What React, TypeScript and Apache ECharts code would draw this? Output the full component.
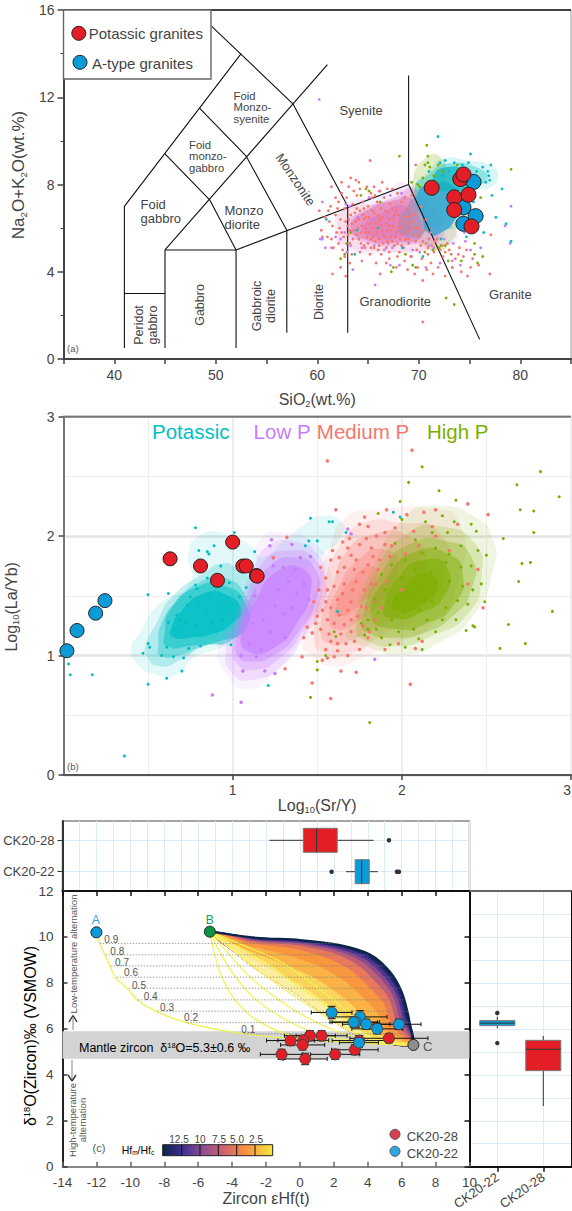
import React, { useEffect, useRef } from "react";
import * as echarts from "echarts";

const FONT = "Liberation Sans";
const MED = "#F8766D", HIGH = "#7CAE00", POT = "#00BFC4", LOW = "#C77CFF";
const RED = "#E41E26", BLUE = "#0A9BD8";

// ---------- panel (a) ----------
const tasBoundaries = [
  [[41, 0.5], [41, 7], [52.5, 14]],
  [[41, 3], [45, 3]],
  [[45, 0.5], [45, 5], [52, 5], [52, 0.5]],
  [[52, 5], [69, 8], [76, 0.9]],
  [[57, 1.2], [57, 5.9]],
  [[63, 1.2], [63, 7]],
  [[69, 13], [69, 8]],
  [[49.6, 15.25], [57.6, 11.7], [63, 7]],
  [[45, 9.4], [49.4, 7.3], [52, 5]],
  [[48.4, 11.5], [53, 9.3], [57, 5.9]],
  [[45, 5], [61, 13.5]],
];
const tasRed = [[71.27, 7.85], [73.5, 7.41], [73.5, 6.83], [74.1, 8.25], [74.4, 8.46], [74.9, 7.53], [75.2, 6.08]];
const tasBlue = [[75.4, 8.12], [74.4, 6.95], [74.4, 6.2], [75.6, 6.55]];
const tasMedium = [[65.2,9.1],[69.7,8.9],[63.3,8.3],[63.8,8.2],[64.1,8.1],[61.4,7.9],[62.4,8.1],[66.4,8.1],[65.4,7.4],[60.2,6.8],[61.1,6.8],[60.4,5.9],[60.5,5.6],[61.5,3.9],[62.8,3.8],[62.3,4.2],[62.7,4.7],[70.4,3.6],[70.4,1.7],[72.6,3.8],[74.8,3.8],[77,3.9],[75.9,4.3],[77.1,5.7],[67.9,4.7],[66.8,4.4],[66.3,4.8],[64.7,5.1],[68.6,4.5],[70.9,4.8],
[61.2,6.3],[61.5,6.1],[61.8,6.6],[61.9,5.8],[62.1,7.2],[62.3,6.4],[62.4,7.6],[62.6,5.6],[62.7,6.9],[62.9,7.4],[63,6.1],[63.2,5.3],[63.3,6.6],[63.5,7.1],[63.6,5.9],[63.8,6.3],[63.9,7.5],[64.1,5.5],[64.2,6.8],[64.4,6.1],[64.5,7.2],[64.7,5.8],[64.8,6.5],[65,5.3],[65,7],[65.2,6.2],[65.3,7.6],[65.5,5.6],[65.6,6.7],[65.8,6],[65.9,7.2],[66.1,5.2],[66.2,6.4],[66.3,6.9],[66.5,5.7],[66.6,7.4],[66.8,6.2],[66.9,5.4],[67,6.7],[67.2,7.1],[67.3,5.9],[67.5,6.4],[67.6,5.2],[67.8,6.8],[67.9,7.6],[68,6],[68.2,5.5],[68.3,7.2],[68.5,6.5],[68.6,5.8],[68.8,6.9],[69,5.3],[69.1,6.2],[69.3,7.5],[69.4,5.7],[69.6,6.6],[69.8,5],[70,6],[70.2,7],[70.4,5.4],[70.7,6.4],[70.9,5.1],[71.2,5.8],[71.5,4.9],[71.8,5.5],[72.1,5],[72.4,4.7],[72.8,5.3],[73.2,4.8],[73.6,4.6],[74,5.1],[74.4,4.7],[62.1,5.3],[61.6,5.1],[61,5.6],[60.8,6.5],[62.5,5],[63.4,4.8],[64.2,4.9],[65.2,4.8],[66,5],[67.1,4.9],[68.1,4.9],[69.2,4.7],[70.3,4.6],[71.2,4.4],[71.9,4.2],[69.9,4.2],[68.9,4.1],
[63.1,6.4],[63.7,6.7],[64,6],[64.6,6.4],[64.9,5.6],[65.4,6],[65.7,5.4],[66,6.6],[66.4,5.9],[66.7,5.6],[67.1,6.1],[67.4,6.9],[67.7,5.6],[68.1,6.3],[68.4,5.7],[68.7,6.3],[69,5.9],[69.2,6.6],[69.7,5.4],[70.1,5.6],[64.3,5.3],[63,5.7],[62.2,6],[61.4,5.5],[61.3,7],[64.6,6.9],[66.1,7.7],[67.4,7.8],[66.8,5.1],[65.3,5.1],
[62.4,5.8],[62.8,6.3],[63.2,5.9],[63.4,6.2],[63.5,5.5],[63.9,5.7],[64.1,6.4],[64.3,5.8],[64.5,6.6],[64.6,5.2],[64.8,6],[65.1,5.8],[65.1,6.5],[65.3,5.5],[65.4,6.8],[65.6,5.1],[65.7,6.2],[65.9,5.8],[66,6.3],[66.1,5.5],[66.3,6.1],[66.4,6.5],[66.5,5.3],[66.7,6.8],[66.9,5.9],[67,5.3],[67.1,6.4],[67.2,5.6],[67.4,5.4],[67.5,6.1],[67.6,6.6],[67.8,5.8],[67.9,5.3],[68,6.6],[68.2,6],[68.3,5.2],[68.5,6.1],[68.7,5.5],[68.9,6.5],[69,5.5],[69.3,6],[69.5,6.3],[69.7,6],[69.9,5.7],[70.2,5.2],[70.5,5.9],[70.7,5.3],[71,5.5],[71.3,5.2],[71.6,5.4],[72.3,5.2],[72.6,4.9],[73,5],[73.9,4.8],[74.7,5],[75.3,4.6],[63.6,7.7],[64.9,7.9],[65.6,7.9],[63.1,7.9],[61.8,7.4],[62,6.9],[66.9,7.8],[68.6,7.4],[67.1,4.6],[65.8,4.4],[64.4,4.5],[63.2,4.4],[66.2,3.9],[67.8,4.2],[69.6,3.9],[70.8,4.1],[71.4,3.9],[73.3,4.2],[75.1,4.2],[74.2,4],[63.9,6.9],[65.7,7.5],[64.2,7.8]];
const tasLow = [[60.2,11.9],[60.5,7.2],[60.5,5.5],[60.3,5.5],[60.8,5.1],[61.4,5.1],[65.7,3.4],[63.5,4.1],[79.1,7],[78.5,6.1],[79,5.3],[67.2,4.3],[68.1,4.3],[69.3,4.7],[73.3,4.5],[61.8,5.6],[62.3,5.5],[62.7,5.8],[63.3,5.2],[62.9,4.9],[64.4,5.1],[65.6,5.2],[66.6,5],[67.4,5.1],[68.5,5.1],[69.4,5],[70.1,4.9],[71,5.2],[71.5,5.1],[72.5,5.5],[73.4,5.3],[74.6,5.4],[75.1,5],[76.1,5.1],[75.5,5.9],[65.1,7.4],[66.2,7.7],[67.2,7.5],[68.3,7.6],[63.2,7],[62.8,7.1],[70.7,4.2],[72.1,4.4],[74.1,4.3],[74.5,5.8],[67.6,6.5],[66.3,6.1],[65.4,6.4],[64,6.5],[68.9,5.6]];
const tasHigh = [[70.8,9.8],[68.1,9.3],[70.9,9.3],[79.1,8.7],[69.3,8.1],[72.7,2.8],[73.5,2.5],[62.3,4.6],[62.7,4.8],[67.3,4],[69.7,4.2],[76.3,4.7],[75.8,4.4],[73.3,4.2],[72.2,5.2],[70.9,9],[70.6,8.9],[71.1,8.8],[71.5,8.4],[71.9,8.9],[70.4,8.3],[71.7,8.1],[72.4,8.6],[72,7.8],[69.9,8],[70.1,7.9],[72.6,5.2],[72,5.1],[71.4,5],[70.6,4.9],[68.7,4.8],[67.5,4.2],[66.2,7.2],[65.1,7.7],[64.3,7.5],[64.8,7.8],[75.5,4.8],[76.1,7.4],[75.3,7.6],[73.8,8.9],[75.5,5.3],[74.2,4.5],[72.9,4.5],[69.4,4.3],[63.3,5.8],[62.9,5.3]];
const tasPot = [[71.9,10.2],[75.1,9.4],[77.1,8.9],[78.2,7.8],[77.6,6.5],[78.6,6.2],[79.1,5.4],[76.4,5.8],[77.2,7.5],[76.8,8.6],[76.3,8.8],[70.4,4.7],[63.7,4.8],[68.4,5.1],[76.9,8.4],[76.6,8.1],[77,8.2],[75.7,8.6],[74.9,9],[74.3,8.9],[73.5,9],[72.6,9.1],[72.1,9],[71,8.6],[73,8.6],[72.3,8.4],[75.4,7.2],[74.7,5.6],[60.9,6.4],[63.9,5.9],[66,6],[72.2,5.5]];
const tasBlobs = [
  { fill: HIGH, opacity: 0.22, pts: [[69.3,7.9],[70.8,9.27],[72.4,9.12],[72.75,8.05],[73.7,6.37],[73.1,5.3],[71.4,5.0],[69.5,5.91]] },
  { fill: LOW, opacity: 0.13, pts: [[61.8,5.7],[62.6,7.0],[66.5,7.59],[68.8,8.05],[72.1,6.52],[73.9,5.6],[71.4,5.05],[66.5,4.85],[62.8,5.0]] },
  { fill: LOW, opacity: 0.3, pts: [[62.9,6.06],[65.0,6.95],[67.8,7.44],[69.5,7.84],[71.3,6.52],[72.4,5.6],[69.1,5.25],[64.6,5.35]] },
  { fill: MED, opacity: 0.14, pts: [[62.0,5.9],[62.7,6.9],[66.5,7.2],[69,7.8],[70.8,7],[72.0,5.2],[70,4.95],[66.1,4.95],[62.7,5.2]] },
  { fill: "#E56FA8", opacity: 0.55, pts: [[63.3,6.06],[65.2,6.9],[67.8,7.3],[69.1,7.4],[70,6.6],[70.2,5.6],[68,5.35],[64.8,5.45]] },
  { fill: "#DE72B4", opacity: 0.5, pts: [[64.5,6.06],[66.8,6.8],[68.6,7.0],[69.3,6.2],[68.4,5.6],[65.2,5.65]] },
  { fill: "#8F8FB8", opacity: 0.5, pts: [[68.0,6.0],[69.0,7.1],[69.9,7.4],[70.6,6.6],[70.4,5.7],[69,5.6]] },
  { fill: POT, opacity: 0.14, pts: [[72.4,9.19],[74.7,9.12],[77.3,8.81],[77.8,8.35],[77.2,7.9],[75.4,7.59],[74.4,6.37],[72.75,5.91],[71.1,6.2],[69.6,7.74],[71.1,8.66]] },
  { fill: POT, opacity: 0.35, pts: [[69.6,7.74],[71.1,8.5],[72.75,8.96],[76,8.73],[76.7,8.2],[74.7,7.74],[73.7,6.83],[72.1,6.06],[70.9,6.2]] },
  { fill: "#3AA4D4", opacity: 0.85, pts: [[69.9,7.6],[71.3,8.0],[73.2,8.0],[74.3,7.2],[73.6,6.4],[72.4,5.85],[71,5.75],[70.3,6.6]] },
  { fill: "#12B4BE", opacity: 0.75, pts: [[71.4,8.3],[72.8,8.8],[74.7,8.5],[74.9,7.9],[73.4,7.7],[71.9,7.8]] },
];

// ---------- panel (b) ----------
const geoRed = [[0.63,1.81],[0.81,1.75],[0.91,1.63],[1.0,1.95],[1.06,1.75],[1.08,1.75],[1.14,1.67],[1.145,1.665]];
const geoBlue = [[0.02,1.04],[0.08,1.21],[0.19,1.355],[0.245,1.46]];
const geoPotBlobs = [
  [[0.40,1.05],[0.455,1.20],[0.55,1.41],[0.746,1.61],[0.74,1.86],[0.81,2.01],[0.96,2.02],[1.09,1.94],[1.18,1.83],[1.31,1.97],[1.415,2.09],[1.53,2.17],[1.64,2.12],[1.65,2.01],[1.52,1.83],[1.35,1.61],[1.13,1.33],[1.03,1.13],[0.90,1.05],[0.77,0.98],[0.68,0.85],[0.55,0.84],[0.43,0.94]],
  [[0.49,1.10],[0.55,1.27],[0.64,1.49],[0.83,1.69],[0.94,1.77],[1.03,1.72],[1.13,1.58],[1.11,1.38],[1.0,1.13],[0.83,1.08],[0.70,0.97],[0.57,0.91],[0.49,1.0]],
  [[0.56,1.08],[0.58,1.27],[0.68,1.47],[0.83,1.63],[0.96,1.65],[1.08,1.49],[1.1,1.3],[0.98,1.12],[0.83,1.08],[0.68,1.0],[0.57,1.0]],
  [[0.6,1.2],[0.63,1.38],[0.78,1.57],[0.96,1.58],[1.08,1.42],[1.07,1.22],[0.92,1.12],[0.75,1.08],[0.61,1.08]],
  [[0.64,1.24],[0.70,1.38],[0.83,1.52],[0.96,1.51],[1.05,1.38],[1.0,1.27],[0.9,1.19],[0.75,1.15],[0.64,1.16]],
];
const geoLowBlobs = [
  [[0.92,1.10],[1.03,1.30],[1.13,1.66],[1.16,1.97],[1.31,2.03],[1.48,1.94],[1.57,1.75],[1.58,1.49],[1.5,1.30],[1.39,1.10],[1.24,0.85],[1.09,0.72],[0.96,0.85]],
  [[0.96,1.05],[1.03,1.38],[1.12,1.72],[1.22,1.93],[1.38,1.95],[1.5,1.85],[1.55,1.66],[1.53,1.42],[1.43,1.18],[1.3,0.92],[1.13,0.8],[1.0,0.85]],
  [[1.0,1.08],[1.07,1.44],[1.18,1.78],[1.33,1.88],[1.49,1.8],[1.53,1.55],[1.42,1.22],[1.28,0.98],[1.12,0.88],[1.02,0.94]],
  [[1.02,1.12],[1.1,1.47],[1.22,1.75],[1.38,1.82],[1.49,1.72],[1.5,1.5],[1.39,1.2],[1.24,1.0],[1.1,0.95],[1.03,1.0]],
  [[1.05,1.18],[1.14,1.47],[1.26,1.7],[1.42,1.72],[1.46,1.53],[1.38,1.27],[1.25,1.07],[1.1,1.03]],
];
const geoMedBlobs = [
  [[1.41,1.10],[1.5,1.61],[1.57,1.89],[1.67,2.16],[1.87,2.22],[2.17,2.23],[2.34,2.11],[2.34,1.66],[2.17,1.24],[1.95,1.10],[1.78,0.99],[1.59,0.91],[1.46,1.01]],
  [[1.48,1.16],[1.54,1.61],[1.63,1.91],[1.78,2.11],[2.0,2.11],[2.21,2.05],[2.26,1.72],[2.08,1.33],[1.87,1.16],[1.7,1.02],[1.54,1.02]],
  [[1.52,1.24],[1.59,1.58],[1.67,1.86],[1.82,2.01],[2.04,2.0],[2.15,1.75],[2.04,1.41],[1.85,1.24],[1.70,1.13],[1.57,1.10]],
  [[1.57,1.33],[1.63,1.58],[1.74,1.8],[1.89,1.89],[1.98,1.75],[1.87,1.44],[1.72,1.27],[1.61,1.22]],
  [[1.61,1.41],[1.7,1.63],[1.82,1.75],[1.85,1.63],[1.74,1.41],[1.63,1.33]],
];
const geoHighBlobs = [
  [[1.67,1.16],[1.7,1.27],[1.8,1.66],[2.02,2.16],[2.21,2.25],[2.43,2.16],[2.54,1.97],[2.54,1.72],[2.43,1.35],[2.21,1.10],[2.0,1.01],[1.78,1.08]],
  [[1.73,1.24],[1.85,1.72],[2.04,2.03],[2.23,2.08],[2.43,1.94],[2.47,1.66],[2.39,1.35],[2.17,1.16],[1.98,1.08],[1.78,1.13]],
  [[1.76,1.27],[1.89,1.72],[2.06,1.94],[2.26,1.96],[2.41,1.83],[2.41,1.55],[2.3,1.33],[2.13,1.19],[1.95,1.15],[1.8,1.19]],
  [[1.82,1.33],[1.93,1.69],[2.08,1.87],[2.26,1.86],[2.36,1.69],[2.3,1.41],[2.15,1.27],[1.98,1.22]],
  [[1.89,1.38],[2.0,1.69],[2.13,1.8],[2.26,1.75],[2.26,1.52],[2.1,1.35],[1.95,1.31]],
  [[1.94,1.41],[2.04,1.61],[2.15,1.69],[2.21,1.58],[2.1,1.41],[2.0,1.37]],
];
const geoPot = [[0.78,2.07],[1.01,2.03],[0.89,1.92],[0.80,1.88],[0.85,1.87],[0.86,1.85],[1.13,1.87],[0.93,1.75],[1.46,2.15],[1.57,2.12],[1.59,2.12],[1.45,1.96],[1.5,1.96],[1.43,1.92],[1.67,2.03],[1.95,2.2],[1.99,2.16],[0.03,0.93],[0.04,0.84],[0.17,0.84],[0.36,0.16],[0.5,0.76],[0.61,0.81],[0.7,0.87],[0.47,1.02],[0.5,1.1],[0.51,1.07],[0.5,1.51],[0.62,1.52],[1.21,0.75],[0.61,1.07],[0.65,0.99],[0.71,0.98],[0.74,1.06],[0.81,1.08],[0.58,1.0],[0.75,1.49],[0.78,1.59],[0.79,1.56],[0.85,1.65],[0.98,1.61],[1.04,1.49],[1.08,1.57],[0.99,1.09],[0.67,1.34],[0.7,1.2],[0.73,1.42],[0.78,1.25],[0.84,1.35],[0.88,1.28],[0.92,1.4],[0.62,1.28],[0.66,1.17],[0.8,1.44],[0.86,1.47],[0.94,1.3],[0.72,1.28],[0.65,1.22],[0.9,1.2],[0.97,1.4],[0.69,1.3],[1.62,1.37]];
const geoLow = [[0.88,0.67],[1.05,0.61],[1.23,1.97],[1.22,1.92],[1.35,1.93],[1.24,1.82],[1.4,1.82],[1.46,1.83],[1.25,0.85],[1.19,0.87],[1.06,0.87],[1.05,1.0],[1.68,2.06],[1.7,2.02],[1.84,0.97],[1.24,1.75],[1.3,1.74],[1.37,1.72],[1.13,1.5],[1.1,1.1],[1.14,0.99],[1.31,1.15],[1.27,1.55],[1.18,1.3],[1.35,1.4],[1.42,1.6],[1.22,1.2],[1.3,1.35],[1.12,1.27],[1.38,1.52],[1.25,1.42],[1.45,1.47],[1.17,1.05],[1.33,1.62]];
const geoMed = [[2.06,2.72],[1.56,2.63],[2.39,2.27],[2.51,2.18],[1.61,2.22],[1.91,2.22],[2.05,0.76],[1.58,0.64],[1.47,0.77],[1.73,0.86],[1.64,0.87],[1.31,0.89],[1.41,0.99],[1.32,1.99],[1.24,1.82],[2.48,1.4],[1.75,2.1],[1.78,2.16],[1.8,2.08],[1.9,2.03],[1.96,2.07],[2.03,2.18],[2.13,2.2],[2.2,2.22],[2.07,2.04],[1.65,1.95],[1.68,1.9],[1.7,1.84],[1.75,1.93],[1.82,1.9],[1.85,2.0],[1.58,1.8],[1.52,1.74],[1.55,1.65],[1.62,1.7],[1.66,1.74],[1.72,1.72],[1.8,1.76],[1.87,1.8],[1.93,1.83],[1.6,1.58],[1.66,1.6],[1.73,1.62],[1.78,1.55],[1.85,1.6],[1.91,1.62],[1.55,1.45],[1.62,1.47],[1.7,1.45],[1.76,1.41],[1.84,1.46],[1.5,1.33],[1.56,1.3],[1.63,1.34],[1.7,1.3],[1.77,1.25],[1.84,1.3],[1.47,1.19],[1.52,1.22],[1.58,1.12],[1.64,1.18],[1.72,1.12],[1.8,1.15],[1.55,1.05],[1.62,1.04],[1.68,1.0],[1.6,0.99],[1.53,0.96],[1.75,1.05],[2.12,1.12],[2.08,1.06],[1.9,1.05],[1.98,1.1],[1.94,1.92],[2.02,1.85],[2.1,1.92],[2.2,2.0],[2.28,1.88],[2.33,2.1],[2.18,2.08],[1.88,1.4],[2.0,1.55],[1.48,1.45],[1.44,1.24],[1.42,1.15],[2.45,1.72],[2.39,1.6],
[1.59,1.88],[1.63,1.82],[1.69,1.98],[1.73,1.8],[1.77,1.7],[1.79,1.98],[1.83,1.83],[1.86,1.72],[1.9,1.93],[1.56,1.55],[1.58,1.4],[1.6,1.27],[1.65,1.52],[1.68,1.38],[1.71,1.55],[1.74,1.33],[1.79,1.4],[1.82,1.6],[1.81,1.2],[1.66,1.26],[1.57,1.18],[1.53,1.38],[1.51,1.55],[1.49,1.27],[1.67,1.1],[1.7,1.2],[1.62,1.1],[1.56,0.98]];
const geoHigh = [[2.12,2.58],[2.04,2.45],[2.22,2.38],[1.99,2.29],[2.32,2.3],[2.82,2.54],[2.68,2.43],[2.93,2.33],[2.7,2.22],[2.78,2.21],[2.78,2.03],[2.6,1.98],[2.71,1.77],[2.76,1.78],[2.69,1.62],[2.89,1.37],[2.63,1.26],[2.73,1.1],[2.58,1.06],[1.81,0.44],[1.46,0.65],[1.5,0.88],[1.86,2.19],[2.5,1.84],[2.43,1.24],[2.0,2.14],[2.14,2.12],[2.24,2.17],[2.31,2.12],[2.41,2.1],[2.44,2.04],[2.27,2.03],[2.18,2.03],[2.08,1.97],[1.96,1.94],[2.35,1.92],[2.28,1.85],[2.2,1.9],[2.12,1.86],[2.02,1.8],[1.94,1.76],[1.88,1.68],[2.45,1.88],[2.41,1.75],[2.35,1.74],[2.26,1.78],[2.17,1.7],[2.08,1.72],[2.0,1.65],[1.9,1.55],[1.84,1.47],[2.47,1.6],[2.42,1.55],[2.36,1.58],[2.28,1.62],[2.2,1.55],[2.12,1.58],[2.05,1.52],[1.96,1.48],[1.86,1.36],[1.8,1.3],[2.39,1.43],[2.33,1.46],[2.26,1.4],[2.18,1.45],[2.1,1.38],[2.02,1.36],[1.94,1.3],[1.85,1.22],[1.78,1.17],[2.32,1.3],[2.24,1.3],[2.15,1.3],[2.07,1.22],[1.98,1.2],[1.88,1.15],[2.42,1.25],[2.38,1.21],[2.2,1.2],[2.1,1.14],[2.02,1.07],[1.93,1.09],[2.12,1.05],[1.8,1.22],[1.76,1.27],[2.49,1.45],[1.6,1.2],[1.61,1.16],[1.5,0.95],[1.55,1.0]];

// ---------- panel (c) ----------
const boxXTop = { // min, q1, median, q3, max
  "CK20-28": [-1.8, 0.2, 0.98, 2.2, 4.35],
  "CK20-22": [2.71, 3.26, 3.64, 4.09, 4.6],
};
const outliersTop = [[5.25, 2], [1.87, 1], [5.72, 1], [5.84, 1]];
const boxYRight = {
  "CK20-22": [6.02, 6.14, 6.25, 6.36, 6.53],
  "CK20-28": [2.64, 4.18, 5.11, 5.5, 5.69],
};
const outliersRight = [[1, 6.69], [1, 5.38]];
const endA = [-12.0, 10.2], endB = [-5.31, 10.23], endC = [6.69, 5.3];
const mantleBand = [[-14, 5.9], [10, 5.9], [10, 4.7], [-14, 4.7]];
const curveAC = [[-12.0,10.2],[-11.8,9.72],[-11.5,9.22],[-11.2,8.74],[-10.9,8.25],[-10.2,7.77],[-9.6,7.26],[-8.5,6.77],[-6.7,6.27],[-3.3,5.78],[1.0,5.5],[6.69,5.3]];
const fanEnvelope = [[-5.31,10.23],[-2.56,9.97],[0,9.87],[2.36,9.65],[4.13,9.24],[5.31,8.49],[6.0,7.62],[6.39,6.6],[6.69,5.3]];
const fanShells = [
  [[-5.31,10.23],[-2.56,9.94],[0,9.84],[2.32,9.61],[4.05,9.2],[5.2,8.45],[5.93,7.6],[6.3,6.58],[6.69,5.3]],
  [[-5.31,10.23],[-2.6,9.91],[0,9.8],[2.25,9.56],[3.95,9.13],[5.08,8.4],[5.82,7.56],[6.2,6.52],[6.69,5.3]],
  [[-5.31,10.23],[-2.65,9.88],[-0.05,9.76],[2.15,9.5],[3.8,9.05],[4.93,8.3],[5.68,7.5],[6.08,6.45],[6.69,5.3]],
  [[-5.31,10.23],[-2.7,9.85],[-0.1,9.71],[2.02,9.42],[3.62,8.95],[4.74,8.2],[5.5,7.42],[5.92,6.37],[6.69,5.3]],
  [[-5.31,10.23],[-2.78,9.8],[-0.2,9.64],[1.85,9.32],[3.38,8.8],[4.48,8.03],[5.27,7.3],[5.72,6.25],[6.69,5.3]],
  [[-5.31,10.23],[-2.9,9.74],[-0.4,9.5],[1.55,9.1],[3.0,8.55],[4.1,7.8],[4.95,7.1],[5.45,6.1],[6.69,5.3]],
  [[-5.31,10.23],[-3.1,9.64],[-0.85,9.22],[1.05,8.75],[2.5,8.15],[3.6,7.45],[4.5,6.75],[5.15,5.92],[6.69,5.3]],
  [[-5.31,10.23],[-3.35,9.52],[-1.3,8.9],[0.5,8.35],[1.95,7.7],[3.05,7.05],[4.0,6.4],[4.85,5.73],[6.69,5.3]],
  [[-5.31,10.23],[-3.65,9.38],[-1.8,8.6],[-0.1,7.95],[1.3,7.25],[2.45,6.6],[3.4,5.98],[4.6,5.55],[6.69,5.3]],
];
const fanShellColors = ["#0B2447", "#232670", "#4E3590", "#8A4A8E", "#BE5D78", "#E8795A", "#F9973F", "#FBB347", "#FBD45E", "#FDE98C"];
const fanLower = [[-5.31,10.23],[-3.93,9.36],[-2.26,8.42],[-0.59,7.69],[0.79,6.96],[1.97,6.31],[3.15,5.8],[4.52,5.44],[6.69,5.3]];
const yellowCurves = [
  [[-5.31,10.23],[-5.02,9.21],[-4.52,8.13],[-3.74,7.18],[-2.56,6.38],[-0.59,5.73],[1.97,5.44],[6.69,5.3]],
  [[-5.31,10.23],[-4.62,9.21],[-3.74,8.2],[-2.56,7.25],[-0.98,6.46],[0.98,5.8],[3.54,5.44],[6.69,5.3]],
  [[-5.31,10.23],[-4.13,9.21],[-3.05,8.34],[-1.77,7.54],[0,6.67],[1.97,5.95],[4.33,5.44],[6.69,5.3]],
  [[-5.31,10.23],[-3.64,9.29],[-2.36,8.49],[-0.98,7.76],[0.79,6.89],[2.56,6.09],[4.72,5.44],[6.69,5.3]],
  [[-5.31,10.23],[-3.15,9.36],[-1.67,8.71],[-0.2,7.9],[1.47,7.04],[3.05,6.17],[4.92,5.44],[6.69,5.3]],
  [[-5.31,10.23],[-2.9,9.5],[-1.2,8.95],[0.3,8.2],[1.9,7.3],[3.3,6.4],[5.0,5.55],[6.69,5.3]],
];
const fractionLines = [
  { label: "0.9", y: 9.72, from: -11.8, to: 2.2 },
  { label: "0.8", y: 9.22, from: -11.45, to: 4.1 },
  { label: "0.7", y: 8.74, from: -11.15, to: 5.05 },
  { label: "0.6", y: 8.25, from: -10.8, to: 5.5 },
  { label: "0.5", y: 7.77, from: -10.1, to: 5.9 },
  { label: "0.4", y: 7.26, from: -9.55, to: 6.15 },
  { label: "0.3", y: 6.77, from: -8.4, to: 6.39 },
  { label: "0.2", y: 6.27, from: -6.65, to: 6.55 },
  { label: "0.1", y: 5.78, from: -3.3, to: 6.65 },
];
// x, y, half-width in x, half-height in y
const zirconRed = [[5.25,5.59,2.3,0.2],[3.5,5.49,1.6,0.22],[3.24,5.09,1.37,0.22],[1.28,5.7,1.5,0.22],[0.59,5.7,1.5,0.22],[0.2,5.5,1.5,0.22],[0.16,5.3,1.3,0.22],[-0.55,5.49,1.42,0.22],[2.08,4.89,1.45,0.22],[0.31,4.69,1.3,0.25],[-1.08,4.89,1.25,0.22]];
const zirconBlue = [[1.87,6.71,1.2,0.27],[3.54,6.52,1.6,0.27],[3.3,6.29,1.4,0.22],[3.17,6.29,1.4,0.22],[3.91,6.2,1.4,0.22],[4.56,6.0,1.5,0.22],[5.84,6.2,1.3,0.22],[3.48,5.4,1.15,0.22]];
const colorbarLabels = ["12.5", "10", "7.5", "5.0", "2.5"];

// ---------- helpers ----------
type P = number[];
const gridAxes = (xi: number, yi: number) => ({ xAxisIndex: xi, yAxisIndex: yi });

function blobs(list: any[], xi: number, yi: number, z = 2) {
  return {
    type: "custom", ...gridAxes(xi, yi), silent: true, z, clip: true,
    data: list.map((b, i) => [b.pts[0][0], b.pts[0][1], i]),
    encode: { x: 0, y: 1 },
    renderItem: (params: any, api: any) => {
      const b = list[params.dataIndex];
      return {
        type: "polygon",
        shape: { points: b.pts.map((pt: P) => api.coord(pt)), smooth: b.smooth ?? 0.6 },
        style: { fill: b.fill, opacity: b.opacity },
      };
    },
  };
}
const dots = (data: P[], color: string, size: number, xi: number, yi: number, z = 3) => ({
  type: "scatter", ...gridAxes(xi, yi), data, symbolSize: size, z, silent: true,
  itemStyle: { color, opacity: 1 },
});
const bigDots = (data: P[], color: string, size: number, xi: number, yi: number, z = 5, border = "#222") => ({
  type: "scatter", ...gridAxes(xi, yi), data: data.map((d) => [d[0], d[1]]), symbolSize: size, z, silent: true,
  itemStyle: { color, borderColor: border, borderWidth: 1, opacity: 1 },
});
const curve = (data: P[], color: string, width: number, xi: number, yi: number, extra: any = {}) => ({
  type: "line", ...gridAxes(xi, yi), data, showSymbol: false, symbol: "none", silent: true, z: 3,
  lineStyle: { color, width, ...(extra.lineStyle || {}) }, smooth: extra.smooth ?? false,
});
function errorBars(data: P[], xi: number, yi: number) {
  return {
    type: "custom", ...gridAxes(xi, yi), silent: true, z: 4,
    data, encode: { x: 0, y: 1 },
    renderItem: (_p: any, api: any) => {
      const x = api.value(0), y = api.value(1), dx = api.value(2), dy = api.value(3);
      const a = api.coord([x - dx, y]), b = api.coord([x + dx, y]);
      const c = api.coord([x, y + dy]), d = api.coord([x, y - dy]);
      const st = { stroke: "#111", lineWidth: 1 };
      const ln = (x1: number, y1: number, x2: number, y2: number) => ({ type: "line", shape: { x1, y1, x2, y2 }, style: st });
      return {
        type: "group",
        children: [
          ln(a[0], a[1], b[0], b[1]), ln(a[0], a[1] - 2, a[0], a[1] + 2), ln(b[0], b[1] - 2, b[0], b[1] + 2),
          ln(c[0], c[1], d[0], d[1]), ln(c[0] - 4, c[1], c[0] + 4, c[1]), ln(d[0] - 4, d[1], d[0] + 4, d[1]),
        ],
      };
    },
  };
}
// box-and-whisker drawn through the axes; horizontal: value along x
function boxes(rows: { pos: number; v: number[]; fill: string }[], horizontal: boolean, thick: number, xi: number, yi: number) {
  return {
    type: "custom", ...gridAxes(xi, yi), silent: true, z: 4,
    data: rows.map((r) => (horizontal ? [r.v[2], r.pos] : [r.pos, r.v[2]])),
    encode: { x: 0, y: 1 },
    renderItem: (params: any, api: any) => {
      const r = rows[params.dataIndex];
      const pt = (val: number) => api.coord(horizontal ? [val, r.pos] : [r.pos, val]);
      const [mn, q1, md, q3, mx] = r.v.map(pt);
      const st = { stroke: "#333", lineWidth: 1 };
      const ln = (a: number[], b: number[]) => ({ type: "line", shape: { x1: a[0], y1: a[1], x2: b[0], y2: b[1] }, style: st });
      const t = thick / 2;
      const rect = horizontal
        ? { x: q1[0], y: q1[1] - t, width: q3[0] - q1[0], height: thick }
        : { x: q1[0] - t, y: q3[1], width: thick, height: q1[1] - q3[1] };
      const m = horizontal ? [[md[0], md[1] - t], [md[0], md[1] + t]] : [[md[0] - t, md[1]], [md[0] + t, md[1]]];
      return {
        type: "group",
        children: [
          ln(mn, q1), ln(q3, mx),
          { type: "rect", shape: rect, style: { fill: r.fill, stroke: "#777", lineWidth: 1 } },
          ln(m[0], m[1]),
        ],
      };
    },
  };
}

const tx = (text: string, x: number, y: number, o: any = {}) => ({
  type: "text", x, y, z: o.z ?? 50, rotation: o.rotation ?? 0, silent: true,
  style: {
    text, fontFamily: FONT, fontSize: o.size ?? 13, fill: o.color ?? "#444",
    align: o.align ?? "left", verticalAlign: "middle", lineHeight: o.lh, rich: o.rich,
  },
});
const seg = (x1: number, y1: number, x2: number, y2: number, stroke: string, lineWidth: number, z = 40) => ({
  type: "line", shape: { x1, y1, x2, y2 }, z, silent: true, style: { stroke, lineWidth },
});
const V = Math.PI / 2;
const subRich = (size: number, color = "#444") => ({
  a: { fontSize: size, fontFamily: FONT, color },
  sub: { fontSize: size * 0.58, fontFamily: FONT, color, verticalAlign: "bottom", padding: [0, 0, -1, 0] },
  sup: { fontSize: size * 0.58, fontFamily: FONT, color, verticalAlign: "top" },
});

function buildOption() {
  const label = (size = 14) => ({ fontFamily: FONT, fontSize: size, color: "#444" });
  const nb = { outerBoundsMode: "none", containLabel: false };
  const grids = [
    { ...nb, left: 63.5, top: 10, width: 507.5, height: 349, show: true, borderColor: "#999", borderWidth: 1 },
    { ...nb, left: 63.5, top: 416.7, width: 507.5, height: 358.3, show: false },
    { ...nb, left: 62.5, top: 821, width: 407, height: 70, show: true, borderColor: "#888", borderWidth: 1.5 },
    { ...nb, left: 62.5, top: 891, width: 407, height: 275.7, show: false },
    { ...nb, left: 469.5, top: 891, width: 101.8, height: 275.7, show: false },
  ];
  const xAxis: any[] = [
    { // 0 panel a
      gridIndex: 0, type: "value", min: 35, max: 85, interval: 5, position: "bottom",
      axisLine: { lineStyle: { color: "#444", width: 2 } }, axisTick: { lineStyle: { color: "#444", width: 1.5 }, length: 5 },
      axisLabel: { ...label(14), margin: 9, formatter: (v: number) => (v >= 40 && v <= 80 && v % 10 === 0 ? String(v) : "") },
      splitLine: { show: false },
      name: "{a|SiO}{sub|2}{a|(wt.%)}", nameLocation: "middle", nameGap: 32,
      nameTextStyle: { rich: subRich(16), padding: [0, 0, 0, 0] },
    },
    { // 1 panel b
      gridIndex: 1, type: "value", min: 0, max: 3, interval: 1, position: "bottom",
      axisLine: { lineStyle: { color: "#555", width: 2 } }, axisTick: { lineStyle: { color: "#444", width: 1.5 }, length: 5 },
      axisLabel: { ...label(14), margin: 8, showMaxLabel: true, showMinLabel: false, alignMaxLabel: "right" },
      splitLine: { show: true, lineStyle: { color: "#E8E8E8", width: 1.5 } },
      minorTick: { show: false, splitNumber: 2 }, minorSplitLine: { show: true, lineStyle: { color: "#EEEEEE", width: 1 } },
      name: "{a|Log}{sub|10}{a|(Sr/Y)}", nameLocation: "middle", nameGap: 22,
      nameTextStyle: { rich: subRich(16) },
    },
    { // 2 top box
      gridIndex: 2, type: "value", min: -14, max: 10, interval: 1, position: "bottom",
      axisLine: { show: false }, axisTick: { show: false }, axisLabel: { show: false },
      splitLine: { show: true, lineStyle: { color: "#DCEBF8", width: 1 } },
    },
    { // 3 main c
      gridIndex: 3, type: "value", min: -14, max: 10, interval: 2, position: "bottom",
      axisLine: { onZero: false, lineStyle: { color: "#888", width: 2 } }, axisTick: { inside: true, length: 5, lineStyle: { color: "#666", width: 1.5 } },
      axisLabel: { ...label(13.5), margin: 9 }, splitLine: { show: false },
      name: "Zircon εHf(t)", nameLocation: "middle", nameGap: 24, nameTextStyle: { fontFamily: FONT, fontSize: 16, color: "#444" },
    },
    { // 4 main c top
      gridIndex: 3, type: "value", min: -14, max: 10, interval: 2, position: "top",
      axisLine: { onZero: false, lineStyle: { color: "#111", width: 2 } }, axisTick: { inside: true, length: 5, lineStyle: { color: "#111", width: 1.5 } },
      axisLabel: { show: false }, splitLine: { show: false },
    },
    { // 5 right box
      gridIndex: 4, type: "value", min: 0.396, max: 2.609, position: "bottom",
      axisLine: { onZero: false, lineStyle: { color: "#111", width: 2 } },
      axisTick: { customValues: [1, 2], length: 5, lineStyle: { color: "#111", width: 1.5 } },
      axisLabel: { ...label(13), customValues: [1, 2], rotate: 35, margin: 9, formatter: (v: number) => (v === 1 ? "CK20-22" : "CK20-28") },
      splitLine: { show: true, lineStyle: { color: "#DCEBF8", width: 1 } },
    },
  ];
  const yAxis: any[] = [
    { // 0
      gridIndex: 0, type: "value", min: 0, max: 16, interval: 4,
      axisLine: { lineStyle: { color: "#444", width: 2 } }, axisTick: { length: 6, lineStyle: { color: "#444", width: 1.5 } },
      minorTick: { show: true, splitNumber: 2, length: 3, lineStyle: { color: "#444" } }, splitLine: { show: false },
      axisLabel: { ...label(14), margin: 9 },
      name: "{a|Na}{sub|2}{a|O+K}{sub|2}{a|O(wt.%)}", nameLocation: "middle", nameGap: 30,
      nameTextStyle: { rich: subRich(17), padding: [0, 0, 0, 19] },
    },
    { // 1
      gridIndex: 1, type: "value", min: 0, max: 3, interval: 1,
      axisLine: { lineStyle: { color: "#777", width: 2 } }, axisTick: { length: 5, lineStyle: { color: "#444", width: 1.5 } },
      axisLabel: { ...label(14), margin: 9 },
      splitLine: { show: true, lineStyle: { color: "#E4E4E4", width: 2.5 } },
      minorTick: { show: false, splitNumber: 2 }, minorSplitLine: { show: true, lineStyle: { color: "#EEEEEE", width: 1 } },
      name: "{a|Log}{sub|10}{a|(La/Yb)}", nameLocation: "middle", nameGap: 44,
      nameTextStyle: { rich: subRich(16), padding: [0, 22, 0, 0] },
    },
    { // 2 top box
      gridIndex: 2, type: "value", min: 0.385, max: 2.615,
      axisLine: { show: true, onZero: false, lineStyle: { color: "#333", width: 2 } },
      axisTick: { customValues: [1, 2], length: 5, lineStyle: { color: "#333" } },
      axisLabel: { ...label(13), customValues: [1, 2], margin: 8, formatter: (v: number) => (v === 2 ? "CK20-28" : "CK20-22") },
      splitLine: { show: true, lineStyle: { color: "#DCEBF8", width: 1 } },
    },
    { // 3 main c
      gridIndex: 3, type: "value", min: 0, max: 12, interval: 2,
      axisLine: { onZero: false, lineStyle: { color: "#222", width: 2 } }, axisTick: { inside: true, length: 5, lineStyle: { color: "#333", width: 1.5 } },
      axisLabel: { ...label(13.5), margin: 9 }, splitLine: { show: false },
    },
    { // 4 main c right
      gridIndex: 3, type: "value", min: 0, max: 12, interval: 2, position: "right",
      axisLine: { onZero: false, lineStyle: { color: "#111", width: 2 } }, axisTick: { inside: true, length: 5, lineStyle: { color: "#111", width: 1.5 } },
      axisLabel: { show: false }, splitLine: { show: false },
    },
    { // 5 right box
      gridIndex: 4, type: "value", min: 0, max: 12, interval: 1, position: "right",
      axisLine: { show: true, onZero: false, lineStyle: { color: "#111", width: 2 } }, axisTick: { show: false }, axisLabel: { show: false },
      splitLine: { show: true, lineStyle: { color: "#DCEBF8", width: 1 } },
    },
  ];

  const geoGroups = [
    { polys: geoPotBlobs, fill: POT, ops: [0.11, 0.22, 0.34, 0.5, 0.75] },
    { polys: geoLowBlobs, fill: LOW, ops: [0.1, 0.18, 0.26, 0.38, 0.62] },
    { polys: geoMedBlobs, fill: MED, ops: [0.1, 0.17, 0.24, 0.28, 0.3] },
    { polys: geoHighBlobs, fill: HIGH, ops: [0.12, 0.2, 0.3, 0.42, 0.55, 0.65] },
  ];
  const shellList: any[] = [fanEnvelope, ...fanShells].map((c, i) => ({
    pts: [...c, ...fanLower.slice(1, -1).reverse()], fill: fanShellColors[i], opacity: 1, smooth: 0.3,
  }));
  shellList.push({ pts: [...fanLower, ...yellowCurves[4].slice(1, -1).reverse()], fill: "#FDF6B8", opacity: 0.5, smooth: 0.3 });

  const series: any[] = [
    // panel a
    blobs(tasBlobs.map((b) => ({ ...b })), 0, 0),
    ...tasBoundaries.map((d) => curve(d, "#111", 1.1, 0, 0)),
    dots(tasLow, LOW, 2.8, 0, 0),
    dots(tasHigh, HIGH, 2.8, 0, 0),
    dots(tasPot, POT, 2.8, 0, 0),
    dots(tasMedium, MED, 2.8, 0, 0),
    bigDots(tasBlue, BLUE, 15, 0, 0, 5),
    bigDots(tasRed, RED, 15, 0, 0, 6),
    // panel b
    ...geoGroups.map((g) => blobs(g.polys.map((pts, i) => ({ pts, fill: g.fill, opacity: g.ops[i] })), 1, 1)),
    dots(geoPot, POT, 3, 1, 1),
    dots(geoLow, LOW, 3.5, 1, 1),
    dots(geoMed, MED, 3.5, 1, 1),
    dots(geoHigh, HIGH, 3, 1, 1),
    bigDots(geoBlue, BLUE, 14, 1, 1),
    bigDots(geoRed, RED, 14, 1, 1),
    // top box
    boxes([
      { pos: 2, v: boxXTop["CK20-28"], fill: RED },
      { pos: 1, v: boxXTop["CK20-22"], fill: BLUE },
    ], true, 24, 2, 2),
    { type: "scatter", ...gridAxes(2, 2), data: outliersTop, symbolSize: 4.5, itemStyle: { color: "#333", opacity: 1 }, silent: true, z: 5 },
    // right box
    boxes([
      { pos: 1, v: boxYRight["CK20-22"], fill: BLUE },
      { pos: 2, v: boxYRight["CK20-28"], fill: RED },
    ], false, 35, 5, 5),
    { type: "scatter", ...gridAxes(5, 5), data: outliersRight, symbolSize: 4.5, itemStyle: { color: "#333", opacity: 1 }, silent: true, z: 5 },
    // main c
    blobs([{ pts: mantleBand, fill: "#D3D3D3", opacity: 1, smooth: 0 }], 3, 3, 1),
    blobs(shellList, 3, 3, 2),
    ...yellowCurves.map((d) => curve(d, "#F2F44E", 1.2, 3, 3, { smooth: 0.4 })),
    curve(curveAC, "#EDF24F", 1.3, 3, 3, { smooth: 0.3 }),
    curve(fanEnvelope, "#0B2447", 2, 3, 3, { smooth: 0.3 }),
    ...fractionLines.map((f) => curve([[f.from, f.y], [f.to, f.y]], "#777", 0.7, 3, 3, { lineStyle: { type: [1.5, 1.5] } })),
    errorBars(zirconRed, 3, 3),
    bigDots(zirconRed, RED, 11, 3, 3, 5, "#444"),
    errorBars(zirconBlue, 3, 3),
    bigDots(zirconBlue, BLUE, 11, 3, 3, 6, "#444"),
    bigDots([endA], BLUE, 11, 3, 3, 6),
    bigDots([endB], "#0B9444", 11, 3, 3, 6),
    bigDots([endC], "#8C8C8C", 11, 3, 3, 6),
  ];

  const cbGrad = new echarts.graphic.LinearGradient(0, 0, 1, 0, [
    { offset: 0, color: "#0B2447" }, { offset: 0.17, color: "#3B2E90" }, { offset: 0.36, color: "#8A4C92" },
    { offset: 0.55, color: "#CF6070" }, { offset: 0.75, color: "#F98F40" }, { offset: 1, color: "#F2E93F" },
  ]);
  const graphic: any[] = [
    // panel a
    seg(63.5, 10, 571, 10, "#444", 2, 10),
    { type: "rect", shape: { x: 63.5, y: 10, width: 147.5, height: 69 }, z: 30, silent: true, style: { fill: "#fff", stroke: "#666", lineWidth: 1.4 } },
    { type: "circle", shape: { cx: 78.8, cy: 33.3, r: 7 }, z: 40, silent: true, style: { fill: RED, stroke: "#222", lineWidth: 1 } },
    { type: "circle", shape: { cx: 80, cy: 62.3, r: 7 }, z: 40, silent: true, style: { fill: BLUE, stroke: "#222", lineWidth: 1 } },
    tx("Potassic granites", 88.7, 33.5, { size: 15 }),
    tx("A-type granites", 92, 63.5, { size: 15 }),
    tx("Foid\ngabbro", 140.5, 211.7, { lh: 14 }),
    tx("Foid\nmonzo-\ngabbro", 189, 156.3, { size: 11.3, lh: 11.6 }),
    tx("Foid\nMonzo-\nsyenite", 233.6, 107.3, { size: 11.3, lh: 11.6 }),
    tx("Syenite", 339.4, 110, { size: 13 }),
    tx("Monzonite", 295.5, 179.5, { rotation: -0.98, align: "center" }),
    tx("Monzo\ndiorite", 224.5, 217, { lh: 14 }),
    tx("Gabbro", 200, 305, { rotation: V, align: "center", size: 12.5 }),
    tx("Peridot\ngabbro", 146, 325, { rotation: V, align: "center", lh: 14.5, size: 12.5 }),
    tx("Gabbroic\ndiorite", 264.2, 306, { rotation: V, align: "center", lh: 14, size: 12.5 }),
    tx("Diorite", 319.3, 302, { rotation: V, align: "center", size: 12.5 }),
    tx("Granodiorite", 359.5, 301.3, { size: 13 }),
    tx("Granite", 489, 294, { size: 13 }),
    tx("(a)", 67, 348, { size: 9.5, color: "#555" }),
    // panel b
    seg(63.5, 416.7, 571, 416.7, "#777", 2, 10),
    tx("Potassic", 152, 431, { size: 20.5, color: POT }),
    tx("Low P", 253.6, 431, { size: 20.5, color: LOW }),
    tx("Medium P", 316.8, 431, { size: 20.5, color: MED }),
    tx("High P", 427, 431, { size: 20.5, color: HIGH }),
    tx("(b)", 67, 766, { size: 9.5, color: "#555" }),
    // panel c
    seg(469.5, 891, 571.3, 891, "#666", 2, 10),
    {
      type: "text", x: 30, y: 1036, rotation: V, z: 50, silent: true,
      style: {
        text: "{a|δ}{sup|18}{a|O(Zircon)‰ (VSMOW)}", align: "center", verticalAlign: "middle",
        rich: subRich(16),
      },
    },
    tx("A", 95.7, 920, { align: "center", color: "#2BA6E0", size: 12 }),
    tx("B", 209.7, 919.5, { align: "center", color: "#0FA060", size: 12 }),
    tx("C", 427.7, 1046, { align: "center", color: "#555", size: 13 }),
    tx("(c)", 99, 1148, { align: "center", size: 11, color: "#555" }),
    tx("Low-temperature alternation", 73, 954, { rotation: V, align: "center", size: 9.5, color: "#555" }),
    tx("High-temperature\nalternation", 77, 1120, { rotation: V, align: "center", size: 9.5, lh: 10, color: "#555" }),
    seg(73, 1018, 73, 1030, "#999", 1.2), seg(69, 1022, 73, 1015.5, "#333", 1.4), seg(77, 1022, 73, 1015.5, "#333", 1.4),
    seg(72, 1060, 72, 1079, "#999", 1.2), seg(68, 1075, 72, 1081, "#333", 1.4), seg(76, 1075, 72, 1081, "#333", 1.4),
    {
      type: "text", x: 79, y: 1047.7, z: 50, silent: true,
      style: {
        text: "{a|Mantle zircon  δ}{s|18}{a|O=5.3±0.6 ‰}", verticalAlign: "middle",
        rich: { a: { fontFamily: FONT, fontSize: 12.5, color: "#444" }, s: { fontFamily: FONT, fontSize: 7.5, color: "#444", verticalAlign: "top" } },
      },
    },
    ...fractionLines.map((f, i) => {
      const pos = [[111.3, 939], [117.3, 951], [122, 962], [131, 972.7], [139, 985], [150.7, 996.7], [167, 1007.3], [191, 1017.3], [248.3, 1029]][i];
      return tx(f.label, pos[0], pos[1], { align: "center", size: 10, color: "#555" });
    }),
    { type: "circle", shape: { cx: 395, cy: 1134.3, r: 5 }, z: 40, silent: true, style: { fill: "#DC4050", stroke: "#555", lineWidth: 1 } },
    { type: "circle", shape: { cx: 395, cy: 1151.3, r: 5 }, z: 40, silent: true, style: { fill: "#2BA6E0", stroke: "#555", lineWidth: 1 } },
    tx("CK20-28", 406.7, 1136.5, { size: 13 }),
    tx("CK20-22", 406.7, 1153.5, { size: 13 }),
    {
      type: "text", x: 121.7, y: 1150, z: 50, silent: true,
      style: {
        text: "{a|Hf}{s|m}{a|/Hf}{s|c}", verticalAlign: "middle",
        rich: { a: { fontFamily: FONT, fontSize: 10.5, color: "#444" }, s: { fontFamily: FONT, fontSize: 6.5, color: "#444", verticalAlign: "bottom" } },
      },
    },
    { type: "rect", shape: { x: 162.7, y: 1144.7, width: 110, height: 11 }, z: 40, silent: true, style: { fill: cbGrad, stroke: "#222", lineWidth: 1 } },
    ...[181.7, 200, 218.3, 236.7, 255].map((x) => seg(x, 1144.7, x, 1155.7, "#111", 1, 41)),
    ...colorbarLabels.map((t, i) => tx(t, [179, 200, 219, 237, 256][i], 1139.5, { align: "center", size: 10 })),
  ];

  return { animation: false, backgroundColor: "#fff", grid: grids, xAxis, yAxis, series, graphic };
}

export default function App() {
  const ref = useRef<HTMLDivElement>(null);
  useEffect(() => {
    const chart = echarts.init(ref.current!, undefined, { renderer: "svg", width: 572, height: 1211 });
    chart.setOption(buildOption() as any);
    return () => chart.dispose();
  }, []);
  return <div ref={ref} style={{ position: "absolute", left: 0, top: 0, width: 572, height: 1211 }} />;
}
